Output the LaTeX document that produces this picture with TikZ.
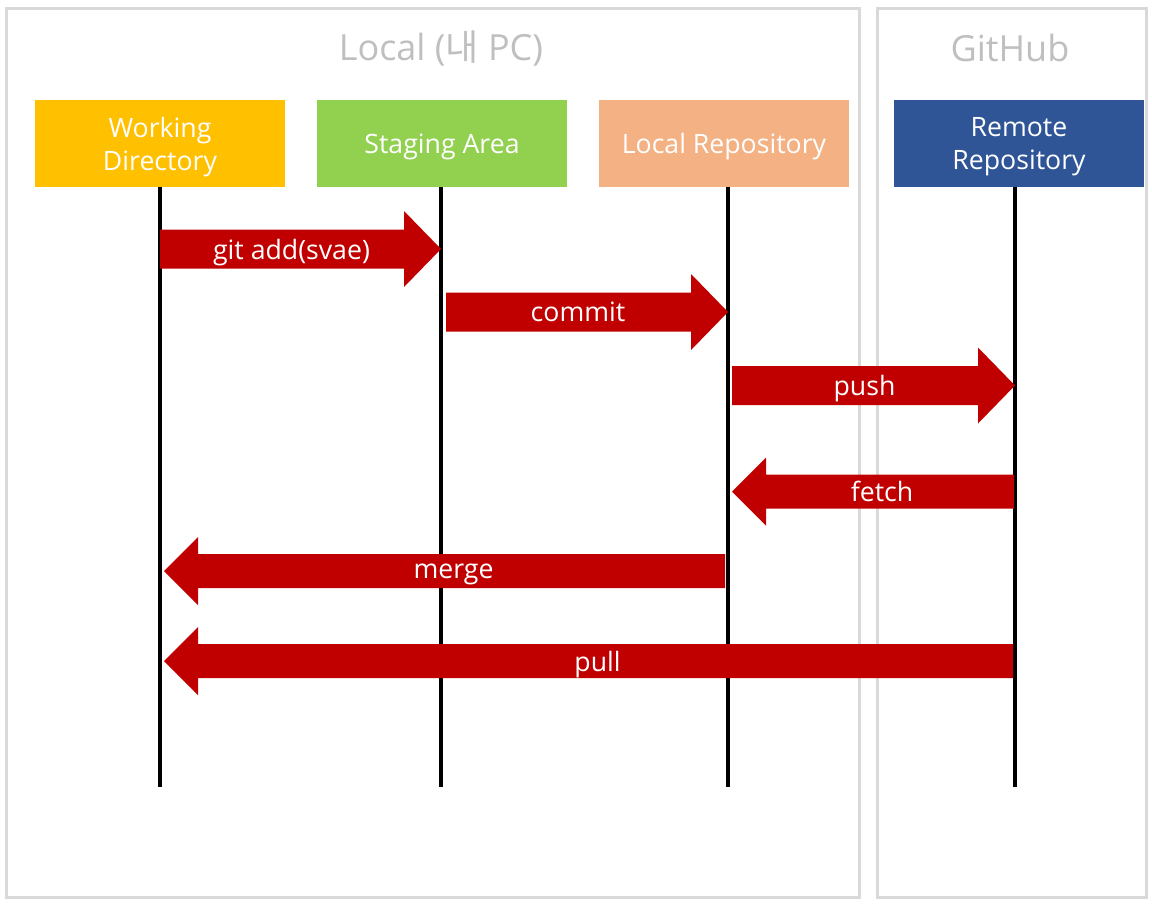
\documentclass[tikz,border=0pt]{standalone}
\usepackage{fontspec}
\setmainfont{Open Sans}
\newfontfamily\krfont{Noto Sans CJK KR}
\usetikzlibrary{calc}
\definecolor{wdyellow}{HTML}{FFC000}
\definecolor{stgreen}{HTML}{92D050}
\definecolor{lrorange}{HTML}{F4B183}
\definecolor{rrblue}{HTML}{2F5597}
\definecolor{gitred}{HTML}{C00000}
\definecolor{framegray}{HTML}{D9D9D9}
\definecolor{titlegray}{HTML}{BFBFBF}
\tikzstyle{frame} = [draw=framegray, line width=2.25pt]
\tikzstyle{title} = [text=titlegray, font=\fontsize{27}{32}\selectfont]
\tikzstyle{area} = [rectangle, text=white, align=center, text depth=0pt, minimum width=187.5pt, minimum height=65.25pt, font=\fontsize{20}{24.75}\selectfont]
\tikzstyle{lifeline} = [draw, line width=3pt]
\tikzstyle{cmd} = [text=white, text depth=0pt, font=\fontsize{20}{24}\selectfont]
\tikzstyle{rblock} = [fill=gitred, to path={($(\tikztostart)+(0,-19.5)$) -- ($(\tikztotarget)+(-37,-19.5)$) -- ($(\tikztotarget)+(-37,-38)$) -- (\tikztotarget) -- ($(\tikztotarget)+(-37,38)$) -- ($(\tikztotarget)+(-37,19.5)$) -- ($(\tikztostart)+(0,19.5)$) -- cycle}]
\tikzstyle{lblock} = [fill=gitred, to path={($(\tikztostart)+(0,-17)$) -- ($(\tikztotarget)+(34,-17)$) -- ($(\tikztotarget)+(34,-34)$) -- (\tikztotarget) -- ($(\tikztotarget)+(34,34)$) -- ($(\tikztotarget)+(34,17)$) -- ($(\tikztostart)+(0,17)$) -- cycle}]

\begin{document}
\begin{tikzpicture}[x=0.75pt, y=-0.75pt]
    \useasboundingbox (0,0) rectangle (1152,904);
    % frames
    \draw[frame] (6,8) rectangle (859,897);
    \draw[frame] (877,8) rectangle (1146.5,897);
    \node[title] (localtitle) at (441,48) {Local ({\krfont 내} PC)};
    \node[title] (hubtitle) at (1010,48) {GitHub};
    % areas
    \node[area, fill=wdyellow] (wd) at (160,143.5) {Working\\Directory};
    \node[area, fill=stgreen] (stage) at (442,143.5) {Staging Area};
    \node[area, fill=lrorange] (lrepo) at (724,143.5) {Local Repository};
    \node[area, fill=rrblue] (rrepo) at (1019,143.5) {Remote\\Repository};
    % lifelines
    \coordinate (wdtop) at (160,187);   \coordinate (wdend) at (160,787);
    \coordinate (sttop) at (441,187);   \coordinate (stend) at (441,787);
    \coordinate (lrtop) at (728,187);   \coordinate (lrend) at (728,787);
    \coordinate (rrtop) at (1015,187);  \coordinate (rrend) at (1015,787);
    \path[lifeline] (wdtop) -- (wdend);
    \path[lifeline] (sttop) -- (stend);
    \path[lifeline] (lrtop) -- (lrend);
    \path[lifeline] (rrtop) -- (rrend);
    % commands
    \coordinate (add1) at (160,249);    \coordinate (add2) at (441,249);
    \coordinate (com1) at (446,312);    \coordinate (com2) at (728,312);
    \coordinate (push1) at (732,385.5); \coordinate (push2) at (1015,385.5);
    \coordinate (fet1) at (1014,491.5); \coordinate (fet2) at (732,491.5);
    \coordinate (mer1) at (725,571);    \coordinate (mer2) at (164,571);
    \coordinate (pull1) at (1013,661);  \coordinate (pull2) at (164,661);
    \path[rblock] (add1) to (add2);
    \path[rblock] (com1) to (com2);
    \path[rblock] (push1) to (push2);
    \path[lblock] (fet1) to (fet2);
    \path[lblock] (mer1) to (mer2);
    \path[lblock] (pull1) to (pull2);
    \node[cmd] (addlbl) at ($(add1)!0.5!(add2)+(-9,0)$) {git add(svae)};
    \node[cmd] (comlbl) at ($(com1)!0.5!(com2)+(-9,0)$) {commit};
    \node[cmd] (pushlbl) at ($(push1)!0.5!(push2)+(-9,0)$) {push};
    \node[cmd] (fetlbl) at ($(fet1)!0.5!(fet2)+(9,0)$) {fetch};
    \node[cmd] (merlbl) at ($(mer1)!0.5!(mer2)+(9,0)$) {merge};
    \node[cmd] (pulllbl) at ($(pull1)!0.5!(pull2)+(9,0)$) {pull};
\end{tikzpicture}
\end{document}
